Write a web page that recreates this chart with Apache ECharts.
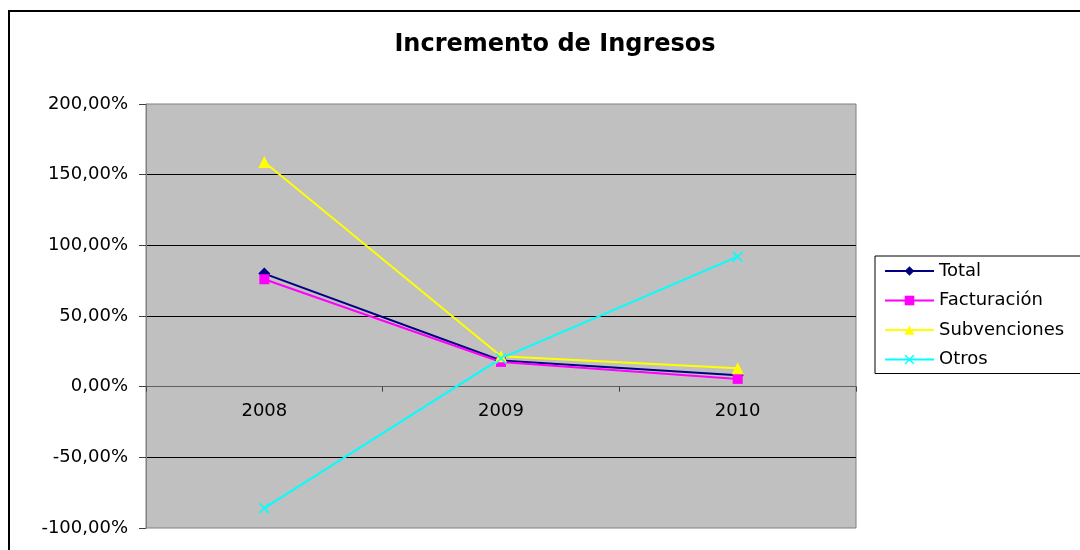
<!DOCTYPE html>
<html>
<head>
<meta charset="utf-8">
<script src="https://cdn.jsdelivr.net/npm/echarts@6/dist/echarts.min.js"></script>
<style>
  html, body { margin: 0; padding: 0; background: #fff; }
  #main { width: 1080px; height: 550px; }
</style>
</head>
<body>
<div id="main"></div>
<script>
const years = ["2008", "2009", "2010"];
const total = [80, 18.5, 8];
const facturacion = [76, 17.5, 5.5];
const subvenciones = [159, 21.5, 13];
const otros = [-86, 20, 92];

const yMin = -100;
const yMax = 200;

const font = "DejaVu Sans";
const crossSymbol =
  "path://M0,1L1,0L5,4L9,0L10,1L6,5L10,9L9,10L5,6L1,10L0,9L4,5Z";

const gridTop = 104;
const gridBottom = 22;
const plotHeight = 550 - gridTop - gridBottom;
// category axis sits on the 0 line, labels included
const zeroOffset = -plotHeight * (0 - yMin) / (yMax - yMin);

const makeSeries = (name, data, color, symbol, size) => ({
  name: name,
  type: "line",
  data: data,
  color: color,
  symbol: symbol,
  symbolSize: size,
  showAllSymbol: true,
  lineStyle: { width: 2, color: color },
  itemStyle: { color: color },
  emphasis: { disabled: true },
});

const chart = echarts.init(document.getElementById("main"));

const option = {
  backgroundColor: "#fff",
  animation: false,
  graphic: [
    {
      type: "rect",
      shape: { x: 9, y: 11, width: 1200, height: 700 },
      style: { fill: "none", stroke: "#000", lineWidth: 2 },
      silent: true,
    },
  ],
  title: {
    text: "Incremento de Ingresos",
    left: 550,
    textAlign: "center",
    top: 28,
    textStyle: {
      fontFamily: font,
      fontWeight: "bold",
      fontSize: 24,
      color: "#000",
    },
  },
  legend: {
    orient: "vertical",
    left: 875,
    top: 256,
    padding: [6, 30, 5, 9],
    itemWidth: 49,
    itemHeight: 12,
    itemGap: 11.5,
    borderColor: "#000",
    borderWidth: 1,
    backgroundColor: "#fff",
    textStyle: {
      fontFamily: font,
      fontSize: 18,
      lineHeight: 18,
      color: "#000",
    },
    data: ["Total", "Facturación", "Subvenciones", "Otros"],
  },
  grid: {
    left: 146,
    right: 224,
    top: gridTop,
    bottom: gridBottom,
    containLabel: false,
    outerBoundsMode: "none",
    show: true,
    backgroundColor: "#C0C0C0",
    borderColor: "#808080",
    borderWidth: 1,
  },
  xAxis: {
    type: "category",
    data: years,
    boundaryGap: true,
    offset: zeroOffset,
    axisLine: { onZero: false, lineStyle: { color: "#606060", width: 1 } },
    axisTick: { show: true, inside: false, length: 5, lineStyle: { color: "#404040" } },
    axisLabel: {
      margin: 16,
      fontFamily: font,
      fontSize: 18,
      color: "#000",
    },
  },
  yAxis: {
    type: "value",
    min: yMin,
    max: yMax,
    interval: 50,
    axisLine: { show: true, lineStyle: { color: "#808080" } },
    axisTick: { show: true, inside: false, length: 7, lineStyle: { color: "#404040" } },
    axisLabel: {
      margin: 18,
      fontFamily: font,
      fontSize: 18,
      color: "#000",
      formatter: (v) => v.toFixed(2).replace(".", ",") + "%",
    },
    splitLine: {
      show: true,
      showMinLine: false,
      showMaxLine: false,
      lineStyle: { color: "#000", width: 1 },
    },
  },
  series: [
    makeSeries("Total", total, "#000080", "diamond", 12),
    makeSeries("Facturación", facturacion, "#FF00FF", "rect", 10),
    makeSeries("Subvenciones", subvenciones, "#FFFF00", "triangle", 12),
    makeSeries("Otros", otros, "#00FFFF", crossSymbol, 11),
  ],
};

chart.setOption(option);
</script>
</body>
</html>
